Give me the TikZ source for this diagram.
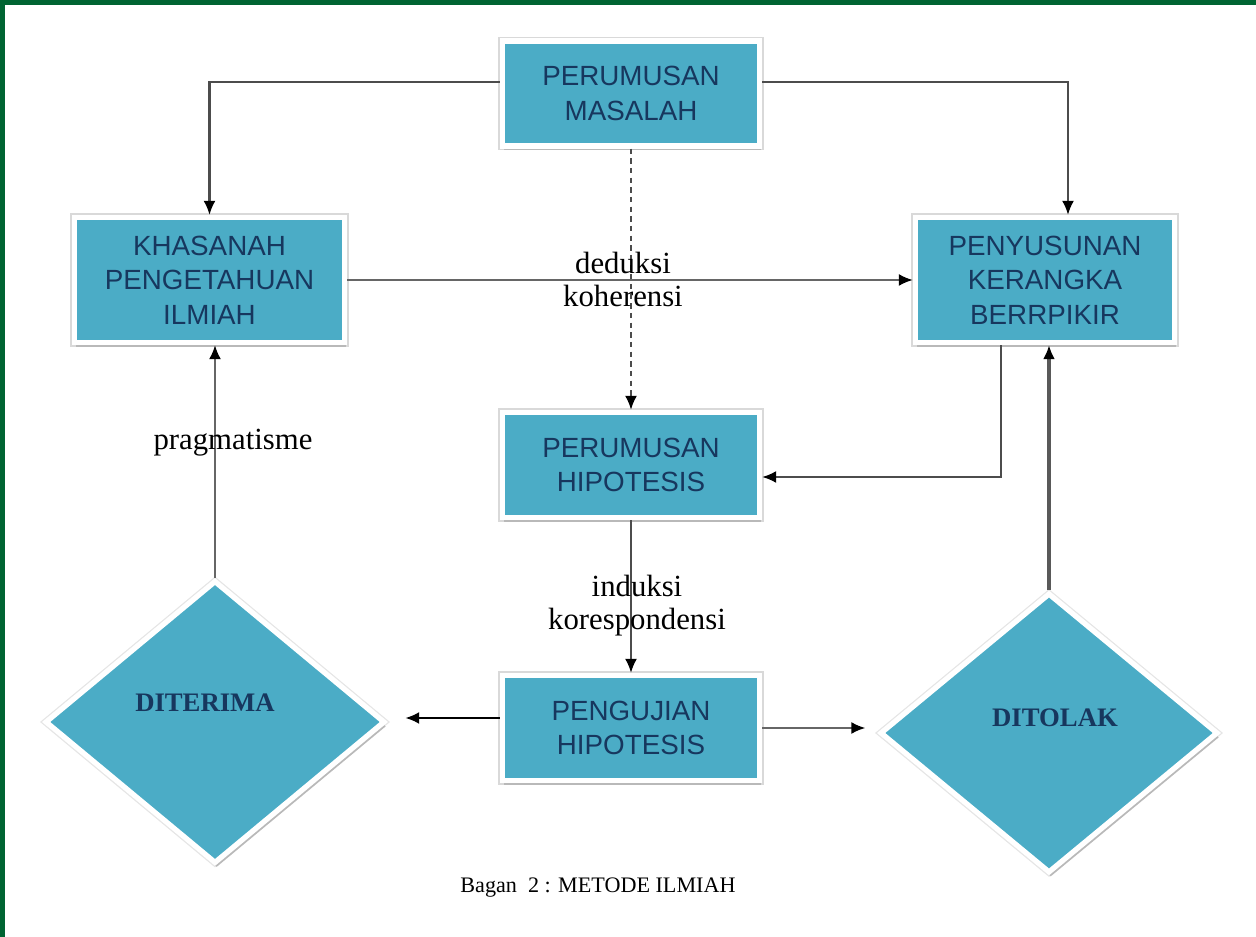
\documentclass[tikz,border=0pt]{standalone}
\usepackage{fontspec}
\setmainfont{Liberation Serif}
\newfontfamily\boxfont{Liberation Sans}
\usetikzlibrary{shapes.geometric,shadows,arrows.meta}

\definecolor{boxblue}{RGB}{75,172,198}
\definecolor{navy}{RGB}{23,55,94}
\definecolor{frame}{RGB}{0,100,50}

\tikzset{
	box/.style={rectangle, fill=boxblue, draw=white, line width=3pt,
		minimum width=5.14cm, minimum height=2.1cm, align=center, text=navy,
		font=\boxfont\fontsize{15.8}{19.6}\selectfont,
		preaction={draw=gray!30, line width=4.6pt},
		general shadow={fill=gray!55, shadow xshift=1pt, shadow yshift=-2.5pt}},
	choice/.style={diamond, fill=boxblue, draw=white, line width=3pt, inner sep=0pt,
		preaction={draw=gray!20, line width=4.4pt},
		general shadow={fill=gray!55, shadow xshift=1pt, shadow yshift=-2.5pt}},
	choicetext/.style={text=navy, font=\bfseries\fontsize{15.2}{18}\selectfont},
	arr/.style={line width=1.2pt, draw=black!70, -{Latex[length=2.8mm,width=2.4mm,color=black]}},
	lbl/.style={align=center, font=\fontsize{17.5}{19}\selectfont},
}

\begin{document}
\begin{tikzpicture}
	\useasboundingbox (0,0) rectangle (25.12,18.74);
	\fill[frame] (0,18.64) rectangle (25.12,18.74);
	\fill[frame] (0,0) rectangle (0.1,18.74);

	\node[box] (masalah) at (12.62,16.87) {PERUMUSAN\\MASALAH};
	\node[box, minimum width=5.4cm, minimum height=2.5cm] (khasanah) at (4.19,13.14) {KHASANAH\\PENGETAHUAN\\ILMIAH};
	\node[box, minimum width=5.18cm, minimum height=2.5cm] (penyusunan) at (20.9,13.14) {PENYUSUNAN\\KERANGKA\\BERRPIKIR};
	\node[box] (hipotesis) at (12.62,9.44) {PERUMUSAN\\HIPOTESIS};
	\node[box] (pengujian) at (12.62,4.18) {PENGUJIAN\\HIPOTESIS};
	\node[choice, minimum width=6.8cm, minimum height=5.66cm,
		label={[choicetext, xshift=-0.2cm, yshift=0.38cm]center:DITERIMA}] (diterima) at (4.3,4.3) {};
	\node[choice, minimum width=6.76cm, minimum height=5.6cm,
		label={[choicetext, xshift=0.12cm, yshift=0.3cm]center:DITOLAK}] (ditolak) at (20.98,4.08) {};

	\draw[arr] ([yshift=.23cm]masalah.west) -| (khasanah.north);
	\draw[arr] ([yshift=.23cm]masalah.east) -| ([xshift=.46cm]penyusunan.north);
	\draw[arr, dash pattern=on 3pt off 2.5pt] (masalah) -- (hipotesis)
		node[lbl, pos=.5, xshift=-.16cm] {deduksi\\koherensi};
	\draw[arr, draw=black!60] (khasanah) -- (penyusunan);
	\draw[arr] ([xshift=-.88cm]penyusunan.south) |- ([yshift=-.24cm]hipotesis.east);
	\draw[arr] (hipotesis) -- (pengujian)
		node[lbl, pos=.56, xshift=.12cm] {induksi\\korespondensi};

	\coordinate (uw) at ([yshift=.2cm]pengujian.west);
	\draw[arr, draw=black, line width=1.5pt] (uw) -- ([xshift=.35cm]uw -| diterima.east);
	\draw[arr, draw=black!60] (pengujian.east) -- ([xshift=-.24cm]pengujian.east -| ditolak.west);
	\draw[arr, draw=black!60] (diterima.north) -- (diterima.north |- khasanah.south)
		node[lbl, pos=.58, xshift=.36cm] {pragmatisme};
	\draw[arr, draw=black!65, line width=2pt] (ditolak.north) -- (ditolak.north |- penyusunan.south);

	\node[font=\fontsize{12.6}{14}\selectfont] (caption) at (11.96,0.98) {Bagan~~2 : METODE ILMIAH};
\end{tikzpicture}
\end{document}
